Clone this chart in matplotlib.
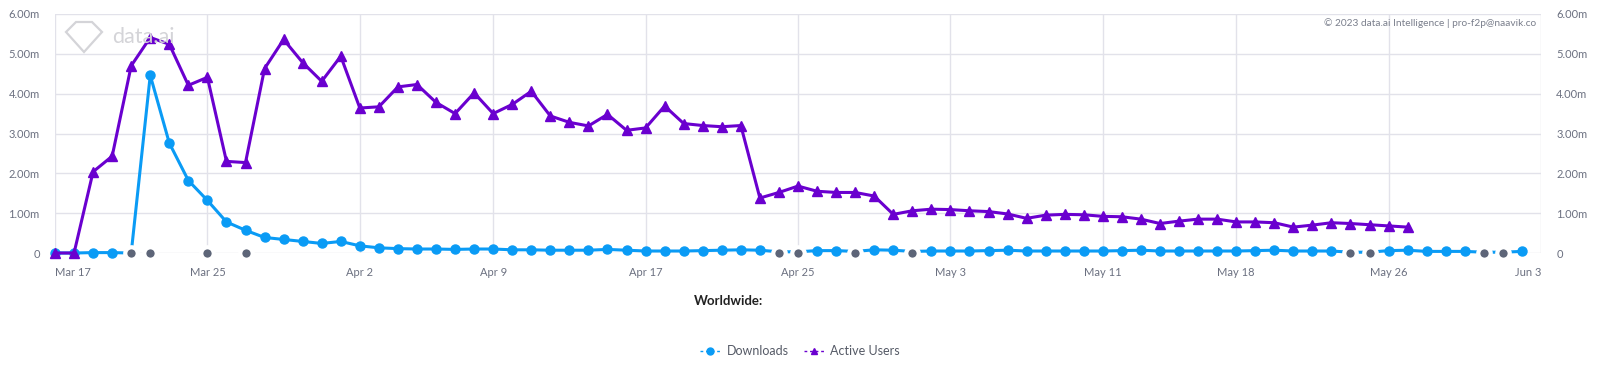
import numpy as np
import pandas as pd
import matplotlib
matplotlib.use("Agg")
import matplotlib.pyplot as plt
from matplotlib.lines import Line2D
from matplotlib.patches import Polygon

plt.rcParams['font.family'] = ['Lato', 'DejaVu Sans']

# daily values, in millions
start = "2023-03-17"
downloads = [0.0, 0.0, 0.01, 0.01, 0.0, 4.46, 2.76, 1.82, 1.32, 0.78,
             0.57, 0.39, 0.34, 0.29, 0.24, 0.29, 0.18, 0.13, 0.11, 0.10,
             0.10, 0.09, 0.10, 0.10, 0.08, 0.08, 0.07, 0.07, 0.07, 0.09,
             0.07, 0.05, 0.05, 0.05, 0.06, 0.07, 0.08, 0.07, 0.03, 0.03,
             0.06, 0.06, 0.04, 0.08, 0.07, 0.04, 0.05, 0.05, 0.05, 0.06,
             0.07, 0.05, 0.05, 0.05, 0.05, 0.05, 0.06, 0.07, 0.05, 0.05,
             0.05, 0.05, 0.05, 0.06, 0.07, 0.05, 0.05, 0.05, 0.02, 0.02,
             0.06, 0.07, 0.04, 0.04, 0.04, 0.02, 0.02, 0.04]
active_users = [0.0, 0.0, 2.04, 2.43, 4.70, 5.41, 5.24, 4.21, 4.41, 2.30,
                2.27, 4.63, 5.36, 4.78, 4.31, 4.94, 3.64, 3.67, 4.17, 4.23,
                3.78, 3.50, 4.02, 3.50, 3.73, 4.06, 3.44, 3.28, 3.19, 3.48,
                3.08, 3.14, 3.69, 3.25, 3.20, 3.17, 3.20, 1.38, 1.52, 1.68,
                1.55, 1.52, 1.52, 1.43, 0.97, 1.06, 1.10, 1.09, 1.06, 1.04,
                0.98, 0.87, 0.95, 0.97, 0.96, 0.92, 0.91, 0.85, 0.74, 0.80,
                0.85, 0.85, 0.78, 0.78, 0.76, 0.65, 0.70, 0.76, 0.74, 0.71,
                0.68, 0.65]
events = ["2023-03-21", "2023-03-22", "2023-03-25", "2023-03-27",
          "2023-04-24", "2023-04-25", "2023-04-28", "2023-05-01",
          "2023-05-24", "2023-05-25", "2023-05-31", "2023-06-01"]
tick_dates = ["2023-03-17", "2023-03-25", "2023-04-02", "2023-04-09",
              "2023-04-17", "2023-04-25", "2023-05-03", "2023-05-11",
              "2023-05-18", "2023-05-26", "2023-06-03"]
y_ticks = [0, 1, 2, 3, 4, 5, 6]
y_labels = ["0", "1.00m", "2.00m", "3.00m", "4.00m", "5.00m", "6.00m"]

blue = "#0a9bf5"
purple = "#6a00cf"
grey_txt = "#6b7080"

fig = plt.figure(figsize=(16, 3.68), dpi=100)
ax = fig.add_axes([55/1600, 115/368, 1486/1600, 239/368])

x_dl = pd.date_range(start, periods=len(downloads))
x_au = pd.date_range(start, periods=len(active_users))
x_ev = pd.to_datetime(events)

ax.plot(x_dl, downloads, color=blue, lw=2.2, marker="o", ms=6.5, zorder=3,
        clip_on=False)
ax.plot(x_au, active_users, color=purple, lw=2.2, marker="^", ms=7.5, zorder=4,
        clip_on=False)
ax.plot(x_ev, [0]*len(x_ev), ls="none", marker="o", ms=9, color="#5d6578",
        mec="white", mew=3, zorder=5, clip_on=False)

ax.set_xlim(pd.Timestamp("2023-03-17"), pd.Timestamp("2023-06-03"))
ax.set_ylim(0, 6)
tds = pd.to_datetime(tick_dates)
ax.set_xticks(tds)
ax.set_xticklabels([d.strftime("%b ") + str(d.day) for d in tds])
labs = ax.get_xticklabels()
labs[0].set_ha("left")
labs[-1].set_ha("right")
ax.set_yticks(y_ticks)
ax.set_yticklabels(y_labels)
ax.tick_params(axis="both", length=0, labelsize=8, labelcolor=grey_txt)
ax.tick_params(axis="x", pad=10)
ax.tick_params(axis="y", labelright=True, pad=11)
ax.grid(True, color="#e2e2ea", lw=1)
ax.set_axisbelow(True)
for s in ax.spines.values():
    s.set_visible(False)

# watermark
gem_pts = np.array([[66, 32], [76, 22], [92, 22], [102, 32], [84, 52]], float)
gem = Polygon(np.column_stack([gem_pts[:, 0], 368 - gem_pts[:, 1]]),
              closed=True, fill=False, ec="#d4d4d8", lw=1.6, transform=None)
fig.patches.append(gem)
fig.text(112/1600, 1 - 37/368, "data.ai", fontsize=15.5, color="#d4d4d8",
         va="center", ha="left")
fig.text(1536/1600, 1 - 23/368, "© 2023 data.ai Intelligence | pro-f2p@naavik.co",
         fontsize=7.3, color="#7a7f8c", ha="right", va="center")

fig.text(729/1600, 1 - 301/368, "Worldwide:", fontsize=9.5, fontweight="bold",
         color="#222222", ha="center", va="center")

handles = [Line2D([], [], color=blue, lw=1, ls=(0, (2, 2)), marker="o", ms=5),
           Line2D([], [], color=purple, lw=1, ls=(0, (2, 2)), marker="^", ms=5)]
fig.legend(handles, ["Downloads", "Active Users"], loc="center",
           bbox_to_anchor=(800/1600, 1 - 351/368), ncol=2, frameon=False,
           fontsize=9, labelcolor="#555a66", handlelength=1.6,
           columnspacing=1.2, handletextpad=0.5)

fig.savefig("out.png", dpi=100)
